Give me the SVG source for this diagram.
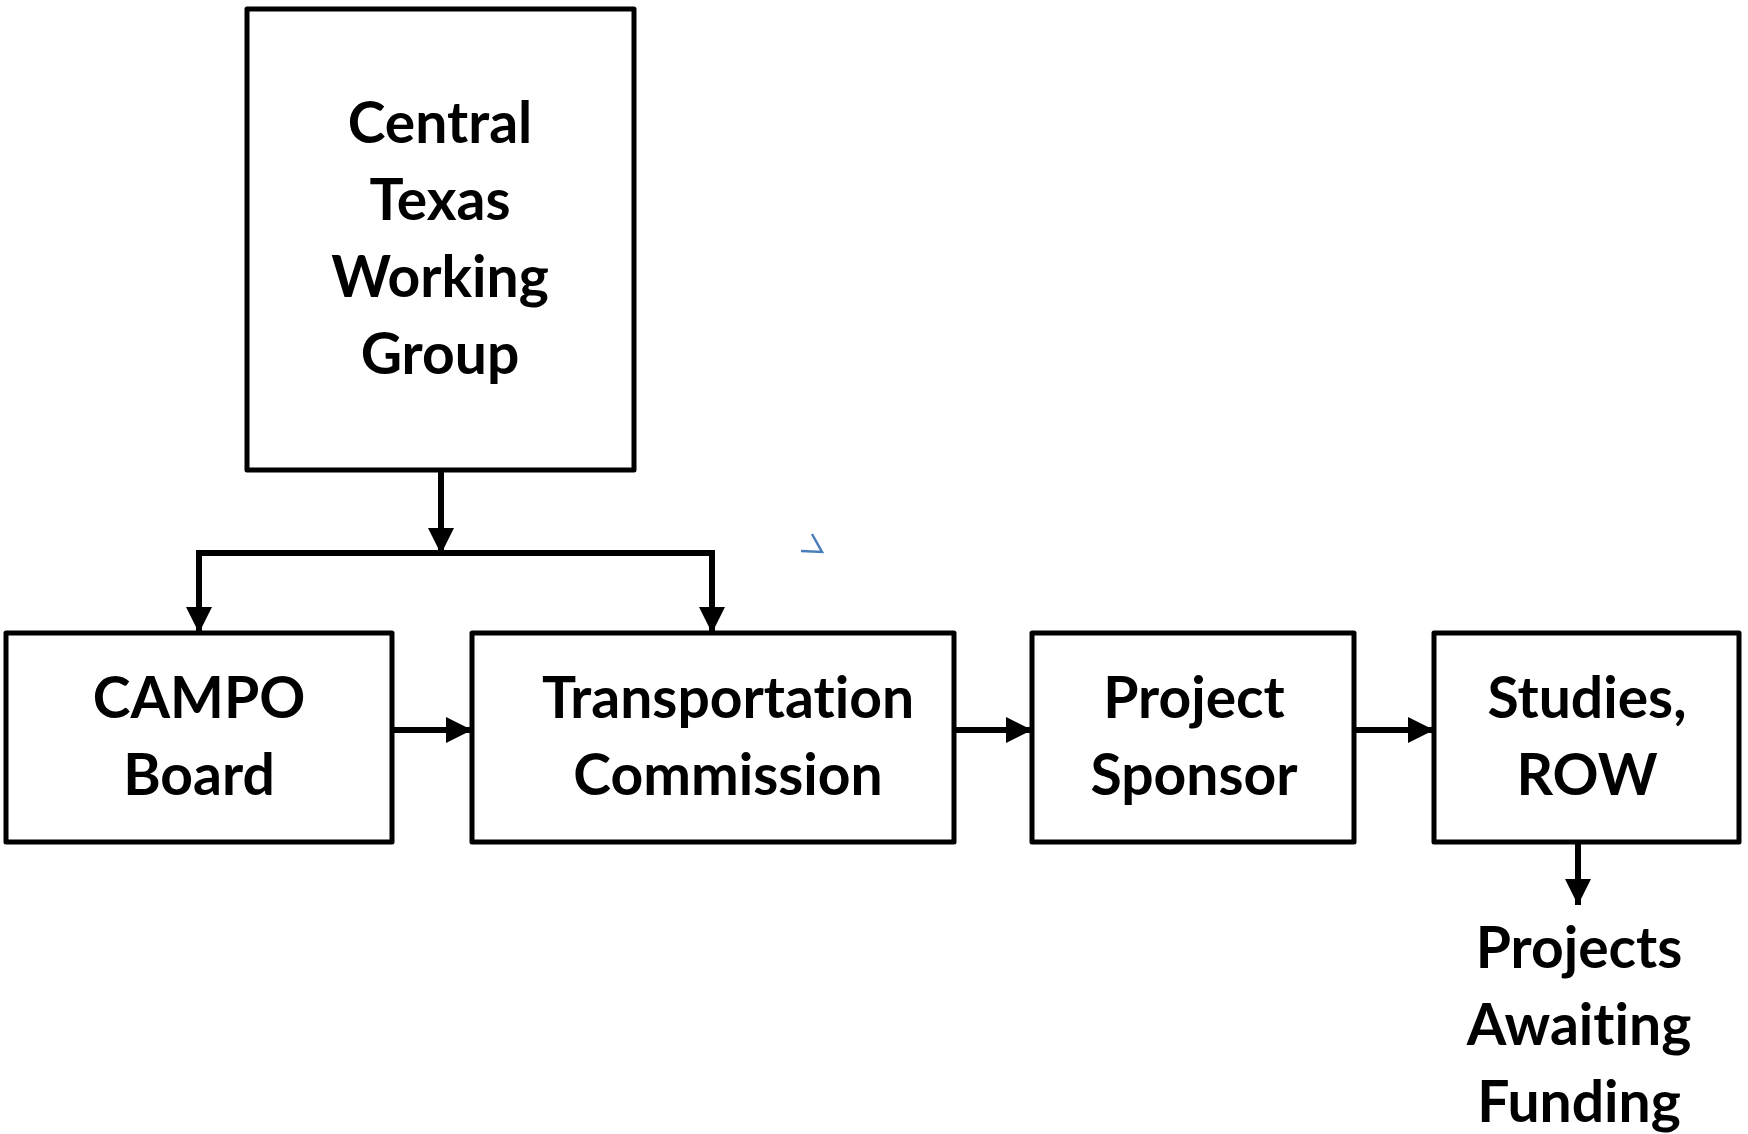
<svg xmlns="http://www.w3.org/2000/svg" width="1748" height="1134" viewBox="0 0 1748 1134">
<style>
.box{fill:#fff;stroke:#000;stroke-width:5;stroke-linejoin:round}
.t{font-family:Lato,"Open Sans","Liberation Sans",sans-serif;font-weight:bold;font-size:57px;fill:#000;text-anchor:middle;font-variant-ligatures:none;font-feature-settings:"liga" 0}
.c{fill:none;stroke:#000;stroke-width:6}
</style>
<defs>
<marker id="ah" markerUnits="userSpaceOnUse" markerWidth="26" markerHeight="26" refX="26" refY="13" orient="auto">
<path d="M0,0 L26,13 L0,26 Z" fill="#000"/>
</marker>
</defs>
<rect width="1748" height="1134" fill="#fff"/>
<g id="connectors">
<line class="c" x1="441" y1="472" x2="441" y2="554" marker-end="url(#ah)"/>
<line class="c" x1="196" y1="553" x2="715" y2="553"/>
<line class="c" x1="199" y1="550" x2="199" y2="633" marker-end="url(#ah)"/>
<line class="c" x1="712" y1="550" x2="712" y2="633" marker-end="url(#ah)"/>
<line class="c" x1="392" y1="730" x2="472" y2="730" marker-end="url(#ah)"/>
<line class="c" x1="954" y1="730" x2="1032" y2="730" marker-end="url(#ah)"/>
<line class="c" x1="1354" y1="730" x2="1434" y2="730" marker-end="url(#ah)"/>
<line class="c" x1="1578" y1="843" x2="1578" y2="905" marker-end="url(#ah)"/>
</g>
<g id="ctwg">
<rect class="box" x="247" y="9" width="387" height="461"/>
<text class="t" x="440" y="143">Central</text>
<text class="t" x="440" y="220">Texas</text>
<text class="t" x="440" y="297">Working</text>
<text class="t" x="440" y="374">Group</text>
</g>
<g id="campo">
<rect class="box" x="6" y="633" width="386" height="209"/>
<text class="t" x="199" y="718">CAMPO</text>
<text class="t" x="199" y="795">Board</text>
</g>
<g id="transcomm">
<rect class="box" x="472" y="633" width="482" height="209"/>
<text class="t" x="728" y="718">Transportation</text>
<text class="t" x="728" y="795">Commission</text>
</g>
<g id="sponsor">
<rect class="box" x="1032" y="633" width="322" height="209"/>
<text class="t" x="1194" y="718">Project</text>
<text class="t" x="1194" y="795">Sponsor</text>
</g>
<g id="studies">
<rect class="box" x="1434" y="633" width="305" height="209"/>
<text class="t" x="1587" y="718">Studies,</text>
<text class="t" x="1587" y="795">ROW</text>
</g>
<g id="awaiting">
<text class="t" x="1579" y="968">Projects</text>
<text class="t" x="1579" y="1045">Awaiting</text>
<text class="t" x="1579" y="1122">Funding</text>
</g>
<path d="M812,534 L822,552 L801,551" fill="none" stroke="#4a7ebb" stroke-width="2.5"/>
</svg>
